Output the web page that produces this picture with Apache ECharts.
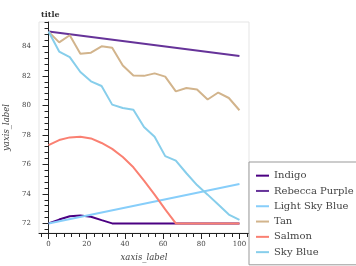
<!DOCTYPE html>
<html>
<head>
<meta charset="utf-8">
<script src="https://cdn.jsdelivr.net/npm/echarts@6/dist/echarts.min.js"></script>
<style>
  html, body { margin: 0; padding: 0; background: #fff; }
  #chart { width: 356px; height: 266px; }
</style>
</head>
<body>
<div id="chart"></div>
<script>
// x positions shared by most series
var xs = [0, 5.56, 11.11, 16.67, 22.22, 27.78, 33.33, 38.89, 44.44, 50,
  55.56, 61.11, 66.67, 72.22, 77.78, 83.33, 88.89, 94.44, 100];

var indigo = [72, 72.26, 72.48, 72.53, 72.45, 72.22, 72, 72, 72, 72,
  72, 72, 72, 72, 72, 72, 72, 72, 72];
var rebeccaX = [0, 100];
var rebecca = [85, 83.35];
var lightSkyX = [0, 100];
var lightSky = [72, 74.67];
var tan = [85.0, 84.27, 84.75, 83.5, 83.57, 84.0, 83.9, 82.7, 82.03, 82.0,
  82.17, 81.95, 80.95, 81.18, 81.08, 80.4, 80.87, 80.5, 79.67];
var salmon = [77.3, 77.65, 77.83, 77.87, 77.76, 77.45, 77.05, 76.5, 75.8, 74.9,
  73.95, 72.95, 72.0, 72, 72, 72, 72, 72, 72];
var skyBlue = [85, 83.65, 83.27, 82.26, 81.63, 81.31, 80.05, 79.82, 79.71, 78.53,
  77.87, 76.56, 76.25, 75.4, 74.6, 73.95, 73.28, 72.6, 72.24];

// ticks
var xMajor = [0, 20, 40, 60, 80, 100];
var xMinor = [-4, 4, 8, 12, 16, 24, 28, 32, 36, 44, 48, 52, 56, 64, 68, 72, 76,
  84, 88, 92, 96, 104];
var yMajor = [72, 74, 76, 78, 80, 82, 84];
var yMinor = [71.6, 72.4, 72.8, 73.2, 73.6, 74.4, 74.8, 75.2, 75.6, 76.4, 76.8,
  77.2, 77.6, 78.4, 78.8, 79.2, 79.6, 80.4, 80.8, 81.2, 81.6, 82.4, 82.8, 83.2,
  83.6, 84.4, 84.8, 85.2, 85.6];

var FONT = 'DejaVu Serif';

function pairs(x, y) {
  var out = [];
  for (var i = 0; i < y.length; i++) out.push([x[i], y[i]]);
  return out;
}

var lines = [
  { name: 'Indigo', color: '#4B0082', data: pairs(xs, indigo) },
  { name: 'Rebecca Purple', color: '#663399', data: pairs(rebeccaX, rebecca) },
  { name: 'Light Sky Blue', color: '#87CEFA', data: pairs(lightSkyX, lightSky) },
  { name: 'Tan', color: '#D2B48C', data: pairs(xs, tan) },
  { name: 'Salmon', color: '#FA8072', data: pairs(xs, salmon) },
  { name: 'Sky Blue', color: '#87CEEB', data: pairs(xs, skyBlue) }
];

var series = lines.map(function (l) {
  return {
    name: l.name,
    type: 'line',
    data: l.data,
    showSymbol: false,
    color: l.color,
    lineStyle: { color: l.color, width: 2 }
  };
});

var chart = echarts.init(document.getElementById('chart'), null, { renderer: 'canvas' });
chart.setOption({
  animation: false,
  title: {
    text: 'title',
    left: 36,
    top: 6,
    textStyle: { fontFamily: FONT, fontSize: 8, fontWeight: 'bold', color: '#333' }
  },
  legend: {
    orient: 'vertical',
    left: 249,
    top: 162,
    padding: [6, 40, 5, 7],
    borderColor: '#999',
    borderWidth: 1,
    backgroundColor: '#fff',
    icon: 'rect',
    itemWidth: 13,
    itemHeight: 2,
    itemGap: 0,
    itemTextGap: 4,
    textStyle: { fontFamily: FONT, fontSize: 10, lineHeight: 15.3, color: '#444' },
    data: lines.map(function (l) { return l.name; })
  },
  grid: {
    left: 39, right: 107, top: 22, bottom: 33,
    show: true, borderColor: '#e5e5e5', borderWidth: 1,
    outerBoundsMode: 'none'
  },
  xAxis: [{
    type: 'value', min: -5, max: 105, position: 'bottom',
    splitLine: { show: false },
    axisLine: { lineStyle: { color: '#222', width: 1 } },
    axisTick: { customValues: xMajor, length: 6, lineStyle: { color: '#222' } },
    axisLabel: { customValues: xMajor, fontFamily: FONT, fontSize: 7, color: '#444', margin: 8 },
    name: 'xaxis_label', nameLocation: 'middle', nameGap: 19,
    nameTextStyle: { fontFamily: FONT, fontSize: 8.5, fontStyle: 'italic', color: '#444' }
  }, {
    type: 'value', min: -5, max: 105, position: 'bottom',
    splitLine: { show: false },
    axisLine: { show: false },
    axisTick: { customValues: xMinor, length: 4, lineStyle: { color: '#222' } },
    axisLabel: { show: false }
  }],
  yAxis: [{
    type: 'value', min: 71.35, max: 85.65, position: 'left',
    splitLine: { show: false },
    axisLine: { show: true, lineStyle: { color: '#222', width: 1 } },
    axisTick: { show: true, customValues: yMajor, length: 6, lineStyle: { color: '#222' } },
    axisLabel: { customValues: yMajor, fontFamily: FONT, fontSize: 7, color: '#444', margin: 8 },
    name: 'yaxis_label', nameLocation: 'middle', nameGap: 18,
    nameTextStyle: { fontFamily: FONT, fontSize: 8.5, fontStyle: 'italic', color: '#444' }
  }, {
    type: 'value', min: 71.35, max: 85.65, position: 'left',
    splitLine: { show: false },
    axisLine: { show: false },
    axisTick: { show: true, customValues: yMinor, length: 4, lineStyle: { color: '#222' } },
    axisLabel: { show: false }
  }],
  series: series
});
</script>
</body>
</html>
